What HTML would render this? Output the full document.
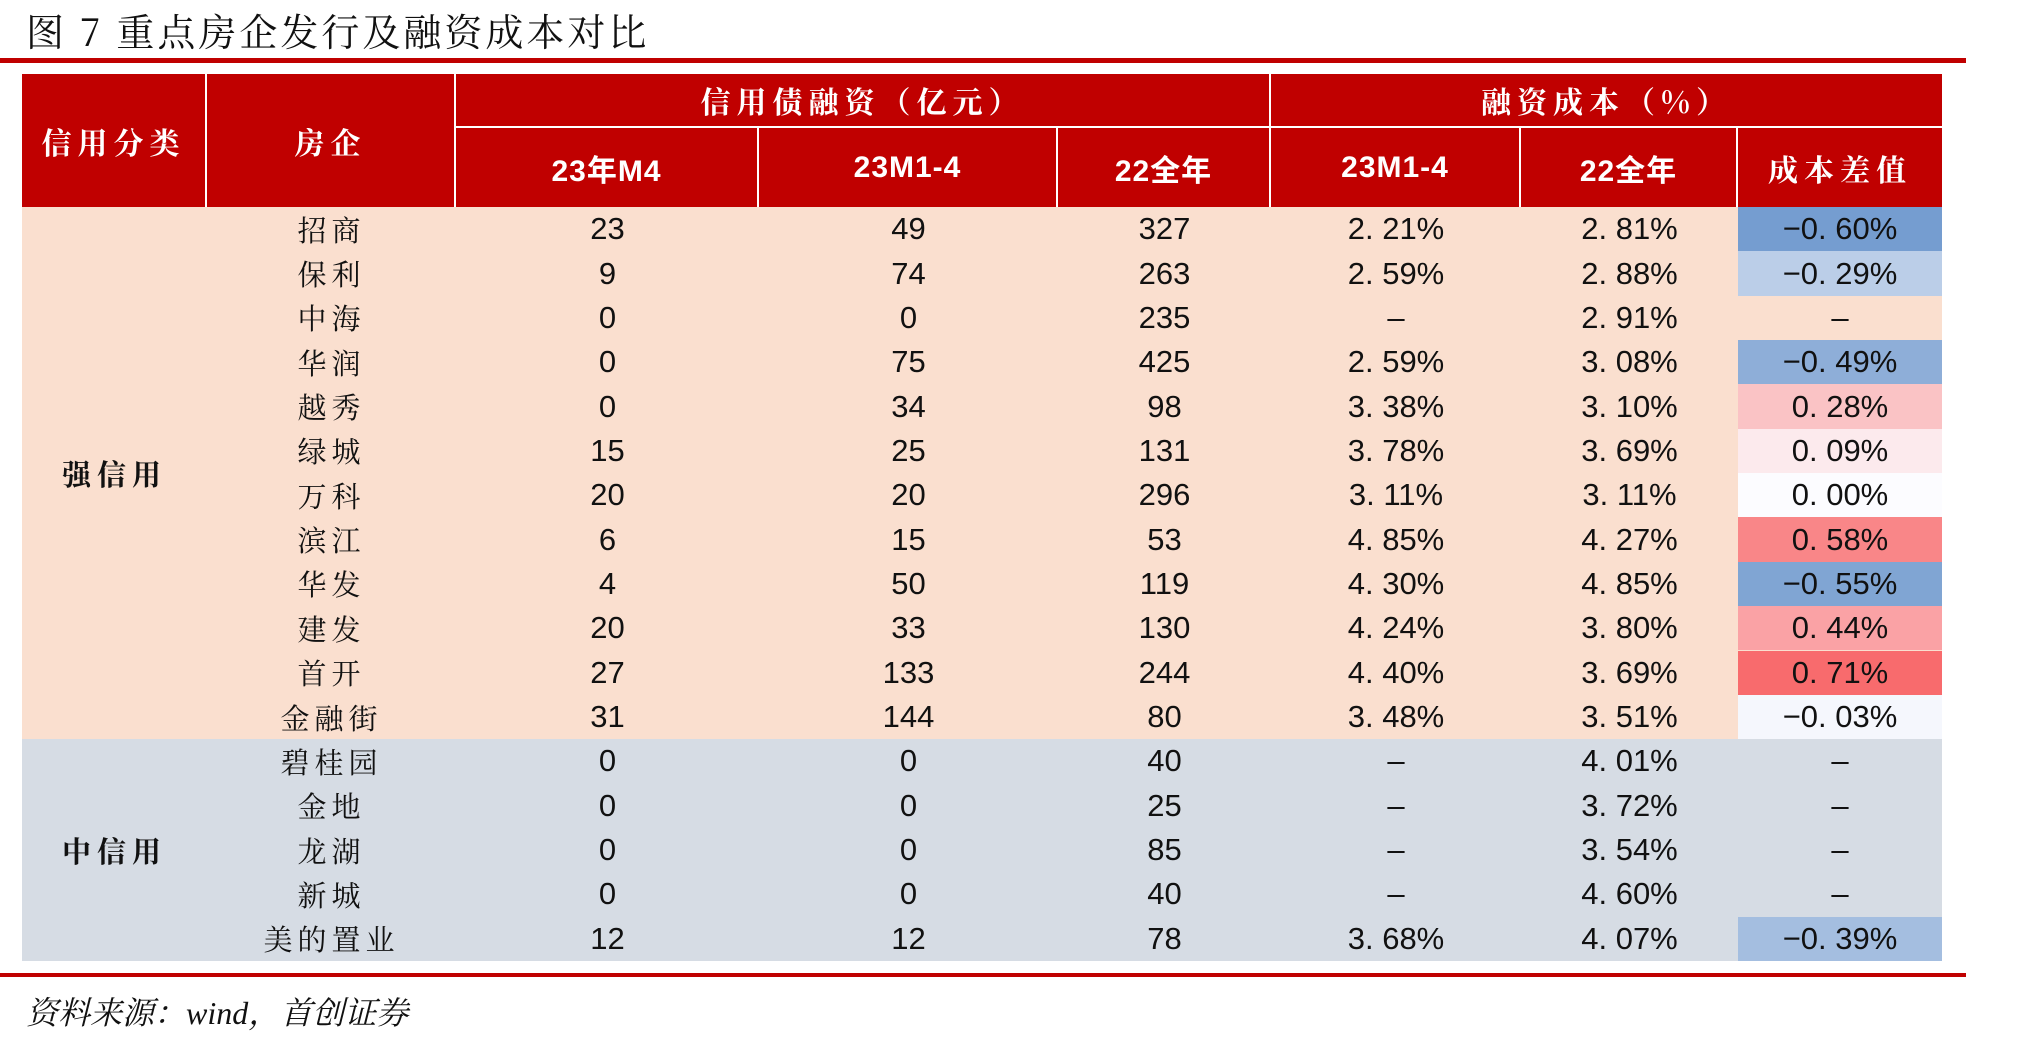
<!DOCTYPE html>
<html><head><meta charset="utf-8">
<style>
body{margin:0;width:2020px;height:1043px;background:#fff;position:relative;overflow:hidden;font-family:"Liberation Sans","Noto Sans CJK SC",sans-serif;}
.a{position:absolute;box-sizing:border-box;}
.hd{background:#C00000;color:#fff;display:flex;align-items:center;justify-content:center;font-family:"Noto Serif CJK SC",serif;font-weight:bold;font-size:30px;letter-spacing:6px;}
.num{display:flex;align-items:center;justify-content:center;font-size:31px;color:#111;}
.nm{display:flex;align-items:center;justify-content:center;font-family:"Noto Serif CJK SC",serif;font-size:29px;letter-spacing:5px;color:#111;}
</style></head><body>
<div class="a" style="left:26px;top:2px;font-family:'Noto Serif CJK SC',serif;font-size:38px;color:#111;letter-spacing:3px;">图 7 重点房企发行及融资成本对比</div>
<div class="a" style="left:0;top:58px;width:1966px;height:5px;background:#C00000;"></div>
<div id="tbl"></div>
<div class="a" style="left:0;top:973px;width:1966px;height:4px;background:#C00000;"></div>
<div class="a" style="left:26px;top:988px;font-family:'Liberation Serif','Noto Serif CJK SC',serif;font-style:italic;font-size:32px;color:#111;">资料来源：wind，首创证券</div>
<script>
const names=["招商","保利","中海","华润","越秀","绿城","万科","滨江","华发","建发","首开","金融街","碧桂园","金地","龙湖","新城","美的置业"];
const m4=[23,9,0,0,0,15,20,6,4,20,27,31,0,0,0,0,12];
const ytd=[49,74,0,75,34,25,20,15,50,33,133,144,0,0,0,0,12];
const fy22=[327,263,235,425,98,131,296,53,119,130,244,80,40,25,85,40,78];
const cost23=[2.21,2.59,null,2.59,3.38,3.78,3.11,4.85,4.30,4.24,4.40,3.48,null,null,null,null,3.68];
const cost22=[2.81,2.88,2.91,3.08,3.10,3.69,3.11,4.27,4.85,3.80,3.69,3.51,4.01,3.72,3.54,4.60,4.07];
const groups=["强信用","中信用"];
const groupSize=[12,5];
const X=[22,207,456,759,1058,1271,1521,1738,1942];
const T=74,M=128,H=207,RH=44.35;
const root=document.getElementById('tbl');
function box(x,y,w,h,cls,txt,bg){const d=document.createElement('div');d.className='a '+cls;d.style.left=x+'px';d.style.top=y+'px';d.style.width=w+'px';d.style.height=h+'px';if(bg)d.style.background=bg;d.textContent=txt;root.appendChild(d);return d;}
function fmt(v){return v==null?'–':v.toFixed(2).replace('.','. ')+'%';}
function heat(d){if(d==null)return null;const t=Math.min(Math.abs(d)/0.72,1);
 if(d<0){return `rgb(${Math.round(252-t*(252-90))},${Math.round(252-t*(252-138))},${Math.round(255-t*(255-198))})`;}
 return `rgb(${Math.round(252-t*(252-248))},${Math.round(252-t*(252-105))},${Math.round(255-t*(255-107))})`;}
// header
let h;
h=box(X[0],T,X[1]-X[0]-2,H-T,'hd','信用分类');


h=box(X[1],T,X[2]-X[1]-2,H-T,'hd','房企');


h=box(X[2],T,X[5]-X[2]-2,M-T-2,'hd','信用债融资（亿元）');


h=box(X[5],T,X[8]-X[5],M-T-2,'hd','融资成本（%）');


const sub=["23年M4","23M1-4","22全年","23M1-4","22全年","成本差值"];
const subn=["header-23-m4","header-23-m1-4","header-22-full","header-cost-23-m1-4","header-cost-22-full","header-cost-diff"];
for(let i=0;i<6;i++){h=box(X[i+2],M,X[i+3]-X[i+2]-(i<5?2:0),H-M,'hd',sub[i]);
 if(i<5){h.style.fontFamily='"Liberation Sans","Noto Sans CJK SC",sans-serif';h.style.letterSpacing='1px';}
 
 }
// group backgrounds
let r0=0;const gbg=['#FADFCF','#D6DCE4'];
for(let g=0;g<groups.length;g++){
 const y=H+r0*RH,hh=groupSize[g]*RH;
 const b=box(X[0],y,X[8]-X[0],hh,'','',gbg[g]);
 
 
 const c=box(X[0],y,X[1]-X[0],hh,'nm',groups[g]);c.style.fontWeight='bold';c.style.letterSpacing='6px';
 
 
 r0+=groupSize[g];}
for(let i=0;i<names.length;i++){
 const y=H+i*RH;
 let c=box(X[1],y,X[2]-X[1],RH,'nm',names[i]);
 
 
 const vals=[m4[i],ytd[i],fy22[i]];
 for(let k=0;k<3;k++){c=box(X[k+2],y,X[k+3]-X[k+2],RH,'num',String(vals[k]));
  
  }
 c=box(X[5],y,X[6]-X[5],RH,'num',fmt(cost23[i]));
 
 
 c=box(X[6],y,X[7]-X[6],RH,'num',fmt(cost22[i]));
 
 
 const d=cost23[i]==null?null:Math.round((cost23[i]-cost22[i])*100)/100;
 c=box(X[7],y,X[8]-X[7],RH,'num',d==null?'–':(d<0?'−':'')+Math.abs(d).toFixed(2).replace('.','. ')+'%',heat(d));
 
 
}
</script>
</body></html>
